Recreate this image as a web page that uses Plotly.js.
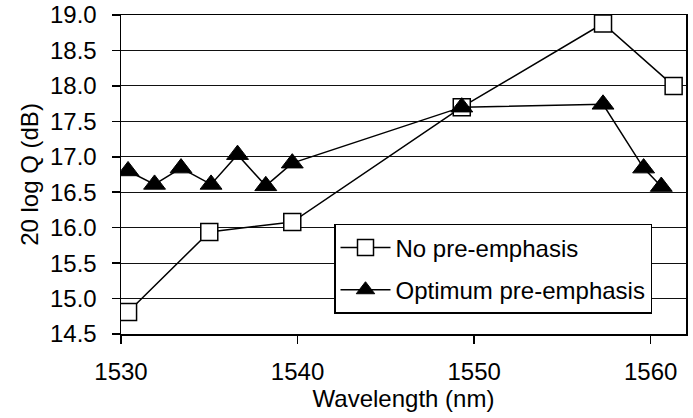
<!DOCTYPE html>
<html>
<head>
<meta charset="utf-8">
<script src="https://cdn.plot.ly/plotly-3.0.1.min.js"></script>
<style>html,body{margin:0;padding:0;background:#fff;}#chart{width:693px;height:418px;}</style>
</head>
<body>
<div id="chart"></div>
<script>
// Data
const noPreX = [1530.4, 1535.0, 1539.7, 1549.3, 1557.3, 1561.3];
const noPreY = [14.81, 15.94, 16.08, 17.70, 18.88, 18.00];
const optX = [1530.4, 1531.9, 1533.4, 1535.1, 1536.6, 1538.2, 1539.7, 1549.3, 1557.3, 1559.6, 1560.6];
const optY = [16.80, 16.61, 16.84, 16.61, 17.03, 16.59, 16.91, 17.70, 17.74, 16.84, 16.58];
const seriesNames = ["No pre-emphasis", "Optimum pre-emphasis"];
const xTicks = [1530, 1540, 1550, 1560];
const yTicks = [14.5, 15.0, 15.5, 16.0, 16.5, 17.0, 17.5, 18.0, 18.5, 19.0];

const FONT = "Liberation Sans, Arial, sans-serif";
const FS = 24;
const traces = [
  {
    x: noPreX, y: noPreY, name: seriesNames[0], type: "scatter", mode: "lines+markers",
    legendgroup: "a",
    line: {color: "#000", width: 1.5},
    marker: {symbol: "square", size: 17, color: "#fff", line: {color: "#000", width: 1.5}}
  },
  {
    x: optX, y: optY, name: seriesNames[1], type: "scatter", mode: "lines+markers",
    legendgroup: "b",
    line: {color: "#000", width: 1.5},
    marker: {symbol: "triangle-up", size: 19, color: "#000", line: {color: "#000", width: 1}}
  }
];
const layout = {
  width: 693, height: 418,
  margin: {l: 121, r: 7, t: 15, b: 84},
  paper_bgcolor: "#fff", plot_bgcolor: "#fff",
  font: {family: FONT, size: FS, color: "#000"},
  showlegend: true,
  legend: {
    x: 0.377, y: 0.345, xanchor: "left", yanchor: "top",
    bgcolor: "#fff", bordercolor: "#000", borderwidth: 1.5,
    font: {family: FONT, size: FS, color: "#000"},
    itemwidth: 50,
    tracegroupgap: 8
  },
  xaxis: {
    range: [1530, 1562], tickvals: xTicks, ticktext: xTicks.map(String),
    ticks: "outside", ticklen: 8, tickwidth: 1.5, tickcolor: "#000",
    ticklabelstandoff: 8,
    showgrid: false, zeroline: false,
    showline: true, linecolor: "#000", linewidth: 1.5, mirror: true,
    tickfont: {family: FONT, size: FS, color: "#000"},
    title: {text: "Wavelength (nm)", font: {family: FONT, size: FS, color: "#000"}, standoff: 2}
  },
  yaxis: {
    range: [14.5, 19.0], tickvals: yTicks, ticktext: yTicks.map(v => v.toFixed(1)),
    ticks: "outside", ticklen: 8, tickwidth: 1.5, tickcolor: "#000",
    ticklabelstandoff: 10,
    showgrid: true, gridcolor: "#111", gridwidth: 1.2, zeroline: false,
    showline: true, linecolor: "#000", linewidth: 1.5, mirror: true,
    tickfont: {family: FONT, size: FS, color: "#000"},
    title: {text: "20 log Q (dB)", font: {family: FONT, size: FS, color: "#000"}, standoff: 4}
  }
};
Plotly.newPlot("chart", traces, layout, {staticPlot: true, displayModeBar: false});
</script>
</body>
</html>
